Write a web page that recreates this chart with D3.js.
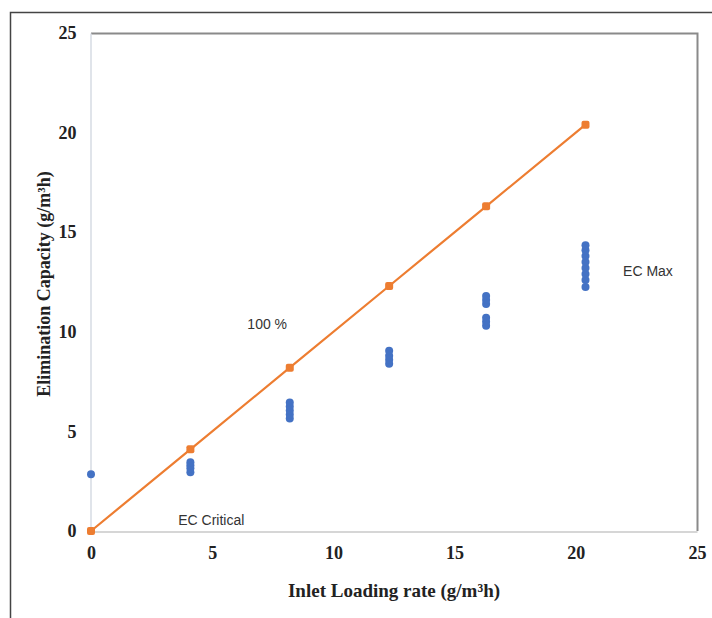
<!DOCTYPE html>
<html>
<head>
<meta charset="utf-8">
<script src="https://cdn.jsdelivr.net/npm/d3@7"></script>
<style>
  html, body { margin: 0; padding: 0; background: #fff; }
  svg { display: block; }
</style>
</head>
<body>
<svg id="chart" width="712" height="618"></svg>
<script>
// ---- data ----
const xTicks = [0, 5, 10, 15, 20, 25];
const yTicks = [0, 5, 10, 15, 20, 25];
const lineX = [0, 4.1, 8.2, 12.3, 16.3, 20.4];
const lineY = [0, 4.1, 8.2, 12.3, 16.3, 20.4];
const scatterX = [0, 4.1, 4.1, 4.1, 4.1, 8.2, 8.2, 8.2, 8.2, 8.2, 12.3, 12.3, 12.3, 12.3,
                  16.3, 16.3, 16.3, 16.3, 16.3, 16.3, 20.4, 20.4, 20.4, 20.4, 20.4, 20.4, 20.4, 20.4];
const scatterY = [2.85, 2.95, 3.15, 3.3, 3.45, 5.65, 5.85, 6.05, 6.25, 6.45, 8.4, 8.6, 8.8, 9.05,
                  10.3, 10.5, 10.7, 11.4, 11.6, 11.8, 12.25, 12.6, 12.9, 13.2, 13.5, 13.8, 14.1, 14.35];
const annotations = [
  { text: "100 %", x: 6.45, y: 10.15 },
  { text: "EC Max", x: 21.95, y: 12.8 },
  { text: "EC Critical", x: 3.6, y: 0.28 }
];
const xTitle = "Inlet Loading rate (g/m³h)";
const yTitle = "Elimination Capacity (g/m³h)";

// ---- layout ----
const svg = d3.select("#chart");
const L = 91, R = 697, T = 33, B = 531;
const x = d3.scaleLinear().domain([0, 25]).range([L, R]);
const y = d3.scaleLinear().domain([0, 25]).range([B, T]);

// outer frame
svg.append("path").attr("d", `M10.5,618 L10.5,12.5 L712,12.5`)
  .attr("fill", "none").attr("stroke", "#444").attr("stroke-width", 1.5);

// plot border (top & right)
svg.append("path").attr("d", `M${L},${T + 0.5} L${R + 0.5},${T + 0.5} L${R + 0.5},${B}`)
  .attr("fill", "none").attr("stroke", "#8a8a8a").attr("stroke-width", 2);

// axes
const xAxis = svg.append("g").attr("transform", `translate(0,${B + 0.5})`)
  .call(d3.axisBottom(x).tickValues(xTicks).tickSize(0).tickPadding(15));
const yAxis = svg.append("g").attr("transform", `translate(${L - 0.5},0)`)
  .call(d3.axisLeft(y).tickValues(yTicks).tickSize(0).tickPadding(14));
xAxis.select(".domain").attr("stroke", "#c8c8c8").attr("stroke-width", 1.5);
yAxis.select(".domain").attr("stroke", "#d6dbe3").attr("stroke-width", 1.5);
[xAxis, yAxis].forEach(g => g.selectAll("text")
  .attr("font-family", "Liberation Serif, serif").attr("font-weight", "bold")
  .attr("font-size", 18).attr("fill", "#222"));

// titles
svg.append("text").attr("x", (L + R) / 2).attr("y", 597).attr("text-anchor", "middle")
  .attr("font-family", "Liberation Serif, serif").attr("font-weight", "bold")
  .attr("font-size", 19).attr("fill", "#222").text(xTitle);
svg.append("text").attr("transform", `translate(50,${(T + B) / 2 + 2}) rotate(-90)`)
  .attr("text-anchor", "middle")
  .attr("font-family", "Liberation Serif, serif").attr("font-weight", "bold")
  .attr("font-size", 18).attr("fill", "#222").text(yTitle);

// line series
const lineData = lineX.map((v, i) => [v, lineY[i]]);
svg.append("path").datum(lineData)
  .attr("fill", "none").attr("stroke", "#ED7D31").attr("stroke-width", 2.2)
  .attr("d", d3.line().x(d => x(d[0])).y(d => y(d[1])));
svg.selectAll(".lm").data(lineData).enter().append("rect")
  .attr("x", d => x(d[0]) - 4).attr("y", d => y(d[1]) - 4)
  .attr("width", 8).attr("height", 8).attr("rx", 2)
  .attr("fill", "#ED7D31");

// scatter series
svg.selectAll(".sc").data(scatterX.map((v, i) => [v, scatterY[i]])).enter().append("circle")
  .attr("cx", d => x(d[0])).attr("cy", d => y(d[1])).attr("r", 4)
  .attr("fill", "#4472C4");

// annotations
svg.selectAll(".ann").data(annotations).enter().append("text")
  .attr("x", d => x(d.x)).attr("y", d => y(d.y))
  .attr("font-family", "Liberation Sans, sans-serif")
  .attr("font-size", 14).attr("fill", "#333").text(d => d.text);
</script>
</body>
</html>
